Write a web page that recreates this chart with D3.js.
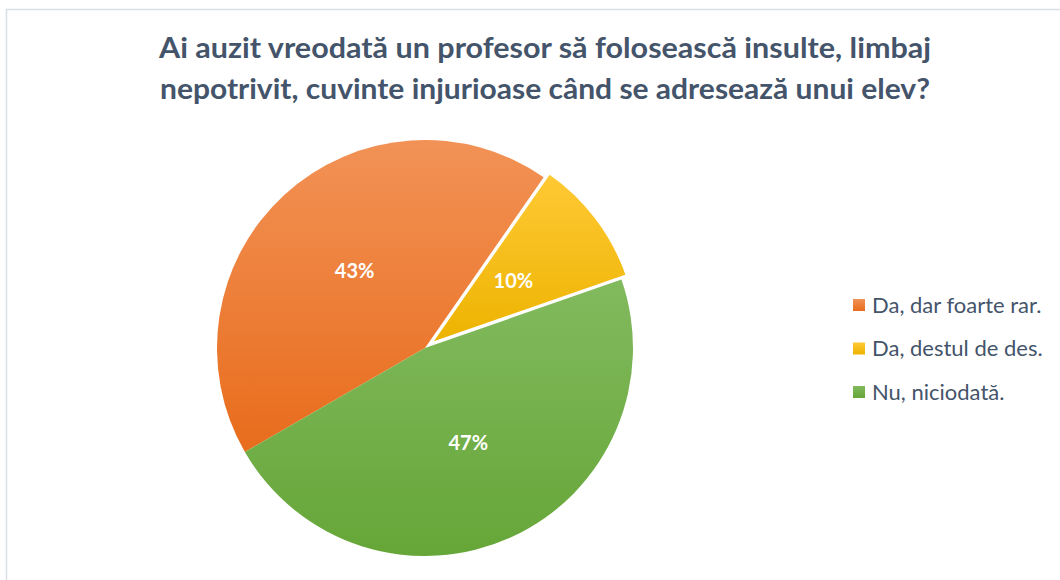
<!DOCTYPE html>
<html>
<head>
<meta charset="utf-8">
<script src="https://cdn.jsdelivr.net/npm/d3@7"></script>
<style>
  body { margin: 0; background: #fff; }
  svg { display: block; }
</style>
</head>
<body>
<svg id="chart" width="1060" height="580"></svg>
<script>
// data
const categories = ["Da, dar foarte rar.", "Da, destul de des.", "Nu, niciodată."];
const values = [43, 10, 47];
const titleLines = ["Ai auzit vreodată un profesor să folosească insulte, limbaj",
                    "nepotrivit, cuvinte injurioase când se adresează unui elev?"];
const colorsTop = ["#F29256", "#FFC935", "#82BA5E"];
const colorsBottom = ["#E86C1C", "#EDB300", "#66A638"];
const explode = [0, 7, 0];

const svg = d3.select("#chart");
const width = 1060, height = 580;
const font = "Lato, 'Open Sans', sans-serif";

// chart area border
svg.append("rect")
  .attr("x", 6.5).attr("y", 9.5)
  .attr("width", width + 20).attr("height", height + 20)
  .attr("fill", "#fff")
  .attr("stroke", "#D9DEE4")
  .attr("stroke-width", 1.5);

// title
const title = svg.append("text")
  .attr("text-anchor", "middle")
  .attr("font-family", font)
  .attr("font-weight", "bold")
  .attr("font-size", 28)
  .attr("fill", "#44546A");
title.selectAll("tspan")
  .data(titleLines)
  .enter()
  .append("tspan")
  .attr("x", 545)
  .attr("y", (d, i) => 58 + i * 41)
  .attr("textLength", (d, i) => i === 0 ? 772 : 770)
  .attr("lengthAdjust", "spacingAndGlyphs")
  .text(d => d);

// gradients
const defs = svg.append("defs");
categories.forEach((c, i) => {
  const g = defs.append("linearGradient")
    .attr("id", "grad" + i)
    .attr("x1", 0).attr("y1", 0).attr("x2", 0).attr("y2", 1);
  g.append("stop").attr("offset", "0%").attr("stop-color", colorsTop[i]);
  g.append("stop").attr("offset", "100%").attr("stop-color", colorsBottom[i]);
});

// pie
const cx = 425, cy = 348, r = 208;
const startAngle = 240 * Math.PI / 180;
const pie = d3.pie()
  .sort(null)
  .startAngle(startAngle)
  .endAngle(startAngle + 2 * Math.PI)
  .value(d => d);
const arc = d3.arc().innerRadius(0).outerRadius(r);
const labelArc = d3.arc().innerRadius(r * 0.5).outerRadius(r * 0.5);

const arcs = pie(values);
const g = svg.append("g").attr("transform", "translate(" + cx + "," + cy + ")");

const offset = (d, i) => {
  const a = (d.startAngle + d.endAngle) / 2;
  return [Math.sin(a) * explode[i], -Math.cos(a) * explode[i]];
};

g.selectAll("path")
  .data(arcs)
  .enter()
  .append("path")
  .attr("d", arc)
  .attr("transform", (d, i) => "translate(" + offset(d, i) + ")")
  .attr("fill", (d, i) => "url(#grad" + i + ")")
  .attr("stroke", (d, i) => explode[i] ? "#fff" : "none")
  .attr("stroke-width", 2.5);

// labels
g.selectAll("text.lbl")
  .data(arcs)
  .enter()
  .append("text")
  .attr("class", "lbl")
  .attr("x", (d, i) => labelArc.centroid(d)[0] + offset(d, i)[0])
  .attr("y", (d, i) => labelArc.centroid(d)[1] + offset(d, i)[1])
  .attr("dy", "0.35em")
  .attr("text-anchor", "middle")
  .attr("font-family", font)
  .attr("font-weight", "bold")
  .attr("font-size", 20)
  .attr("fill", "#fff")
  .text(d => d.data + "%");

// legend
const legend = svg.append("g").attr("transform", "translate(853,305)");
const items = legend.selectAll("g")
  .data(categories)
  .enter()
  .append("g")
  .attr("transform", (d, i) => "translate(0," + i * 43.5 + ")");
items.append("rect")
  .attr("x", 0).attr("y", -6)
  .attr("width", 12).attr("height", 12)
  .attr("fill", (d, i) => "url(#grad" + i + ")");
items.append("text")
  .attr("x", 19)
  .attr("dy", "0.35em")
  .attr("font-family", font)
  .attr("font-size", 22)
  .attr("fill", "#44546A")
  .text(d => d);
</script>
</body>
</html>
